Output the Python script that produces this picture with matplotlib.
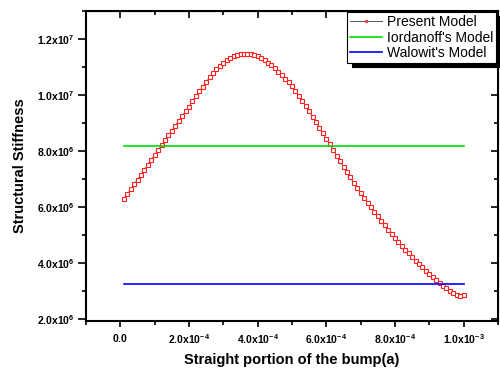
import matplotlib
matplotlib.use("Agg")
import matplotlib.pyplot as plt
from matplotlib.ticker import FixedLocator, MultipleLocator
import numpy as np

plt.rcParams['font.family'] = ['Liberation Sans', 'DejaVu Sans']
plt.rcParams['mathtext.fontset'] = 'custom'
plt.rcParams['mathtext.rm'] = 'Liberation Sans'
plt.rcParams['mathtext.bf'] = 'Liberation Sans:bold'

# straight portion a (x1e-3) and structural stiffness (x1e6)
a_vals = [0.01, 0.02, 0.03, 0.04, 0.05, 0.06, 0.07, 0.08, 0.09, 0.10,
          0.11, 0.12, 0.13, 0.14, 0.15, 0.16, 0.17, 0.18, 0.19, 0.20,
          0.21, 0.22, 0.23, 0.24, 0.25, 0.26, 0.27, 0.28, 0.29, 0.30,
          0.31, 0.32, 0.33, 0.34, 0.35, 0.36, 0.37, 0.38, 0.39, 0.40,
          0.41, 0.42, 0.43, 0.44, 0.45, 0.46, 0.47, 0.48, 0.49, 0.50,
          0.51, 0.52, 0.53, 0.54, 0.55, 0.56, 0.57, 0.58, 0.59, 0.60,
          0.61, 0.62, 0.63, 0.64, 0.65, 0.66, 0.67, 0.68, 0.69, 0.70,
          0.71, 0.72, 0.73, 0.74, 0.75, 0.76, 0.77, 0.78, 0.79, 0.80,
          0.81, 0.82, 0.83, 0.84, 0.85, 0.86, 0.87, 0.88, 0.89, 0.90,
          0.91, 0.92, 0.93, 0.94, 0.95, 0.96, 0.97, 0.98, 0.99, 1.00]
present = [6.29, 6.46, 6.63, 6.81, 6.98, 7.16, 7.33, 7.51, 7.68, 7.86,
           8.03, 8.21, 8.38, 8.56, 8.73, 8.91, 9.08, 9.25, 9.42, 9.59,
           9.78, 9.96, 10.13, 10.30, 10.47, 10.63, 10.78, 10.92, 11.04, 11.15,
           11.25, 11.33, 11.39, 11.43, 11.46, 11.47, 11.47, 11.46, 11.43, 11.38,
           11.32, 11.25, 11.16, 11.06, 10.96, 10.83, 10.70, 10.58, 10.46, 10.31,
           10.15, 9.97, 9.79, 9.61, 9.42, 9.23, 9.04, 8.84, 8.64, 8.44,
           8.24, 8.04, 7.84, 7.64, 7.44, 7.25, 7.06, 6.87, 6.68, 6.50,
           6.33, 6.16, 5.99, 5.83, 5.67, 5.51, 5.35, 5.19, 5.04, 4.89,
           4.75, 4.61, 4.47, 4.34, 4.21, 4.08, 3.96, 3.84, 3.72, 3.61,
           3.50, 3.39, 3.29, 3.19, 3.09, 3.00, 2.92, 2.85, 2.82, 2.87]
iordanoff = 8.19
walowit = 3.26

x_ticks = [0.0, 2e-4, 4e-4, 6e-4, 8e-4, 1e-3]
x_labels = ['0.0', '2.0x10^{-4}', '4.0x10^{-4}', '6.0x10^{-4}', '8.0x10^{-4}', '1.0x10^{-3}']
y_ticks = [2e6, 4e6, 6e6, 8e6, 1e7, 1.2e7]
y_labels = ['2.0x10^{6}', '4.0x10^{6}', '6.0x10^{6}', '8.0x10^{6}', '1.0x10^{7}', '1.2x10^{7}']

x = np.array(a_vals) * 1e-3
y = np.array(present) * 1e6

fig = plt.figure(figsize=(5.0, 3.71), dpi=100)
ax = fig.add_axes([0.172, 0.135, 0.824, 0.835])

ax.plot(x, y, color='#555555', linewidth=0.7, marker='s', markersize=2.6,
        markerfacecolor='white', markeredgecolor='#ff2020', markeredgewidth=0.8,
        label='Present Model')
ax.plot([x[0], x[-1]], [iordanoff * 1e6] * 2, color='#00dd00', linewidth=1.2,
        label="Iordanoff's Model")
ax.plot([x[0], x[-1]], [walowit * 1e6] * 2, color='#0000ff', linewidth=1.2,
        label="Walowit's Model")

ax.set_xlim(-1e-4, 1.1e-3)
ax.set_ylim(1.93e6, 1.3e7)

ax.xaxis.set_major_locator(FixedLocator(x_ticks))
ax.set_xticklabels([r'$\mathbf{' + s + '}$' for s in x_labels], fontsize=7.5)
ax.xaxis.set_minor_locator(MultipleLocator(1e-4))
ax.yaxis.set_major_locator(FixedLocator(y_ticks))
ax.set_yticklabels([r'$\mathbf{' + s + '}$' for s in y_labels], fontsize=7.5)
ax.yaxis.set_minor_locator(MultipleLocator(1e6))

ax.tick_params(which='both', direction='out', width=1.2, top=False, right=False)
ax.tick_params(axis='y', which='major', length=5.5, pad=3)
ax.tick_params(axis='y', which='minor', length=3)
ax.tick_params(axis='x', which='major', length=4, pad=4)
ax.tick_params(axis='x', which='minor', length=3)
for s in ax.spines.values():
    s.set_linewidth(1.5)

# inward ticks on top and right
ax_t = ax.secondary_xaxis('top')
ax_t.xaxis.set_major_locator(FixedLocator(x_ticks))
ax_t.xaxis.set_minor_locator(MultipleLocator(1e-4))
ax_t.tick_params(which='both', direction='in', labeltop=False, width=1.2)
ax_t.tick_params(which='major', length=5)
ax_t.tick_params(which='minor', length=3)
ax_r = ax.secondary_yaxis('right')
ax_r.yaxis.set_major_locator(FixedLocator(y_ticks))
ax_r.yaxis.set_minor_locator(MultipleLocator(1e6))
ax_r.tick_params(which='both', direction='in', labelright=False, width=1.2)
ax_r.tick_params(which='major', length=5)
ax_r.tick_params(which='minor', length=3)

ax.set_xlabel('Straight portion of the bump(a)', fontsize=10.5, fontweight='bold', labelpad=5)
ax.set_ylabel('Structural Stiffness', fontsize=10.5, fontweight='bold', labelpad=7)

leg = ax.legend(loc='upper right', bbox_to_anchor=(0.9955, 0.997), fontsize=10,
                frameon=True, fancybox=False, shadow={'color': 'black', 'alpha': 1.0, 'ox': 3, 'oy': -3},
                borderpad=0.2, labelspacing=0.12, handlelength=2.3, handletextpad=0.35,
                borderaxespad=0.0, markerscale=0.5)
leg.get_frame().set_edgecolor('black')
leg.get_frame().set_linewidth(0.8)

fig.savefig('out.png', dpi=100)
